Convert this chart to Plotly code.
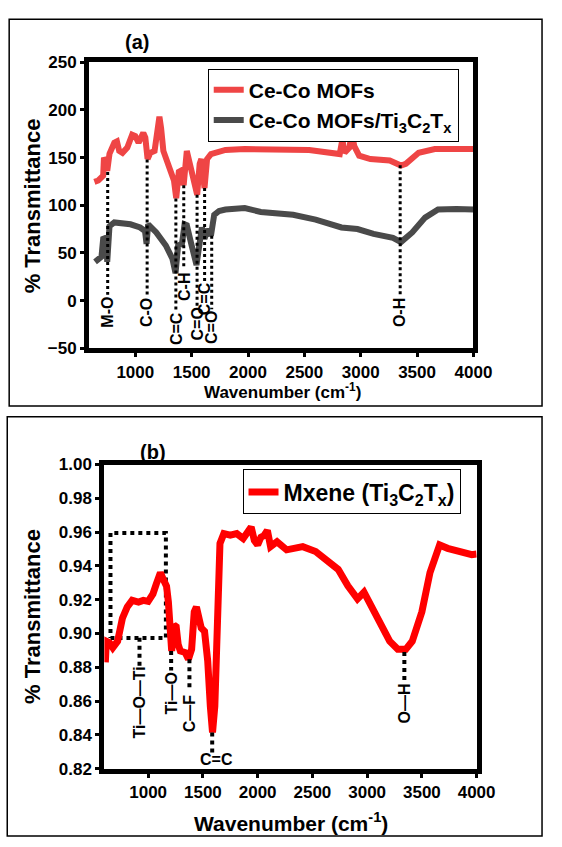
import plotly.graph_objects as go

# ---------------- Panel (a) data ----------------
mof_wn = [637, 672, 715, 722, 728, 751, 771, 814, 837, 857, 886, 929, 972, 1000, 1029, 1071, 1089, 1109,
          1134, 1171, 1200, 1214, 1229, 1249, 1300, 1343, 1363, 1386, 1409, 1429, 1457, 1486, 1529, 1549,
          1571, 1586, 1614, 1637, 1671, 1729, 1800, 1971, 2200, 2543, 2814, 2837, 2857, 2900, 2920, 2943,
          2986, 3086, 3257, 3357, 3400, 3514, 3657, 3800, 4000]
mof_t = [124.5, 126, 131, 150, 148.5, 136, 154, 165.6, 167, 157, 155, 160.5, 174, 172.5, 165.6, 176, 171, 148.5,
         155, 157, 179, 193, 181, 157, 140, 126, 107.5, 135, 136.5, 121, 157, 141.7, 119.5, 111,
         143.5, 148.5, 118, 148.5, 153.7, 156, 158, 159, 158.5, 158, 153.7, 169, 155, 160.5, 176, 162,
         152, 148.5, 147, 141.7, 143.5, 155, 159, 159, 159]

comp_wn = [643, 672, 700, 715, 743, 751, 771, 814, 957, 1043, 1086, 1100, 1114, 1186, 1271, 1329, 1357,
           1380, 1414, 1437, 1457, 1500, 1543, 1563, 1591, 1614, 1643, 1671, 1700, 1743, 1800, 1971, 2114,
           2400, 2600, 2829, 2971, 3114, 3286, 3357, 3457, 3571, 3686, 3850, 4000]
comp_t = [40.7, 44, 46, 64.7, 66, 40.7, 78, 82, 80, 76.7, 73, 59.5, 80, 71.5, 57.8, 44, 28.7,
          57.8, 59.5, 80, 79, 57.8, 37.3, 54, 76.7, 64.7, 75, 68, 90, 94, 95.5, 97, 93,
          90, 85, 76.7, 75, 70, 65.7, 61.3, 71.5, 87, 95.5, 96, 95.5]

peaks_a_wn = [755, 1105, 1360, 1430, 1548, 1615, 1678, 3350]
peaks_a_top = [135, 148, 107, 121, 111, 118, 68, 142]
peaks_a_bottom = [6, 5, -10, 33, -6, 20, -9, 5]
labels_a = ["M-O", "C-O", "C=C", "C-H", "C=O", "C=C", "C=O", "O-H"]
label_a_y = [-12, -13, -29, 14, -25, 2, -28, -13]

# ---------------- Panel (b) data ----------------
mx_wn = [609, 618, 647, 677, 721, 765, 809, 854, 912, 956, 1000, 1044, 1074, 1112, 1138, 1168, 1185, 1200,
         1215, 1235, 1256, 1274, 1294, 1338, 1368, 1397, 1421, 1441, 1465, 1485, 1515, 1544, 1568, 1588,
         1609, 1633, 1656, 1691, 1750, 1809, 1868, 1941, 1970, 2000, 2030, 2059, 2089, 2118, 2177, 2265,
         2412, 2530, 2647, 2736, 2824, 2912, 2971, 3029, 3118, 3206, 3280, 3353, 3412, 3500, 3574, 3662,
         3735, 3853, 3956, 4000]
mx_t = [0.8829, 0.8954, 0.8945, 0.8916, 0.8954, 0.909, 0.9157, 0.9196, 0.9186, 0.9196, 0.919, 0.9234, 0.9292,
        0.936, 0.932, 0.928, 0.9186, 0.8954, 0.8896, 0.905, 0.904, 0.8935, 0.8896, 0.8887, 0.8848, 0.8906,
        0.9128, 0.9157, 0.909, 0.9032, 0.9012, 0.8838, 0.8569, 0.8414, 0.857, 0.9147, 0.9533, 0.9591,
        0.9582, 0.9591, 0.9562, 0.963, 0.955, 0.9524, 0.957, 0.958, 0.961, 0.9514, 0.9543, 0.9495, 0.9514,
        0.9485, 0.9427, 0.9379, 0.9282, 0.9205, 0.9244, 0.9167, 0.9051, 0.8954, 0.8906, 0.8906, 0.8954,
        0.9128, 0.936, 0.9524, 0.9504, 0.9485, 0.9466, 0.947]

peaks_b_wn = [921, 1210, 1377, 1585, 3340]
peaks_b_top = [0.8975, 0.8896, 0.8848, 0.8414, 0.889]
peaks_b_bottom = [0.8796, 0.878, 0.868, 0.8287, 0.8704]
labels_b = ["Ti—O—Ti", "Ti—O", "C—F", "C=C", "O—H"]
label_b_x = [921, 1210, 1377, 1625, 3340]
label_b_y = [0.8594, 0.8645, 0.853, 0.8252, 0.8588]
label_b_angle = [-90, -90, -90, 0, -90]

box_wn = [656, 1162]
box_t = [0.8973, 0.9595]

FONT = "Liberation Sans, Arial, sans-serif"

fig = go.Figure()

fig.add_trace(go.Scatter(x=mof_wn, y=mof_t, mode="lines", name="Ce-Co MOFs", xaxis="x", yaxis="y",
                         line=dict(color="#ef4545", width=6), legend="legend"))
fig.add_trace(go.Scatter(x=comp_wn, y=comp_t, mode="lines",
                         name="Ce-Co MOFs/Ti<sub>3</sub>C<sub>2</sub>T<sub>x</sub>",
                         xaxis="x", yaxis="y", line=dict(color="#4a4a4a", width=6), legend="legend"))

for wn, top, bot in zip(peaks_a_wn, peaks_a_top, peaks_a_bottom):
    fig.add_trace(go.Scatter(x=[wn, wn], y=[top, bot], mode="lines", xaxis="x", yaxis="y",
                             line=dict(color="black", width=3, dash="dot"), showlegend=False,
                             hoverinfo="skip"))

# panel b
fig.add_trace(go.Scatter(x=[box_wn[0], box_wn[1], box_wn[1], box_wn[0], box_wn[0]],
                         y=[box_t[0], box_t[0], box_t[1], box_t[1], box_t[0]],
                         mode="lines", xaxis="x2", yaxis="y2",
                         line=dict(color="black", width=4, dash="dot"), showlegend=False, hoverinfo="skip"))
fig.add_trace(go.Scatter(x=mx_wn, y=mx_t, mode="lines", name="Mxene (Ti<sub>3</sub>C<sub>2</sub>T<sub>x</sub>)",
                         xaxis="x2", yaxis="y2", line=dict(color="#ff0000", width=7), legend="legend2"))
for wn, top, bot in zip(peaks_b_wn, peaks_b_top, peaks_b_bottom):
    fig.add_trace(go.Scatter(x=[wn, wn], y=[top, bot], mode="lines", xaxis="x2", yaxis="y2",
                             line=dict(color="black", width=4, dash="dot"), showlegend=False,
                             hoverinfo="skip"))

annotations = []
for wn, txt, ly in zip(peaks_a_wn, labels_a, label_a_y):
    annotations.append(dict(x=wn, y=ly, xref="x", yref="y", text="<b>%s</b>" % txt, textangle=-90,
                            showarrow=False, xanchor="center", yanchor="middle",
                            font=dict(family=FONT, size=16, color="black")))
for lx, txt, ly, ang in zip(label_b_x, labels_b, label_b_y, label_b_angle):
    annotations.append(dict(x=lx, y=ly, xref="x2", yref="y2", text="<b>%s</b>" % txt, textangle=ang,
                            showarrow=False, xanchor="center", yanchor="middle",
                            font=dict(family=FONT, size=16, color="black")))

W, H = 562, 847


def px(xp):
    return xp / W


def py(yp):
    return 1 - yp / H


text_items = [
    ("(a)", 142, 34, 0, 20),
    ("(b)", 158, 453, 0, 20),
    ("% Transmittance", 34, 201, -90, 22),
    ("% Transmittance", 33, 621, -90, 22),
    ("Wavenumber (cm<sup>-1</sup>)", 292, 391, 0, 17),
    ("Wavenumber (cm<sup>-1</sup>)", 301, 832, 0, 21),
]
for txt, xp, yp, ang, sz in text_items:
    annotations.append(dict(x=px(xp), y=py(yp), xref="paper", yref="paper", text="<b>%s</b>" % txt,
                            textangle=ang, showarrow=False, xanchor="center", yanchor="middle",
                            font=dict(family=FONT, size=sz, color="black")))

axis_common = dict(showgrid=False, zeroline=False, showline=True, linecolor="black", linewidth=5,
                   mirror=True, ticks="outside", ticklen=4, tickwidth=3, tickcolor="black",
                   tickfont=dict(family=FONT, size=17, color="black", weight="bold"))

fig.update_layout(
    width=W, height=H, margin=dict(l=0, r=0, t=0, b=0),
    paper_bgcolor="white", plot_bgcolor="white",
    xaxis=dict(domain=[px(92.2), px(490)], range=[590, 4000], tickvals=[1000, 1500, 2000, 2500, 3000, 3500, 4000],
               anchor="y", **axis_common),
    yaxis=dict(domain=[py(347), py(54.5)], range=[-50, 250], tickvals=[-50, 0, 50, 100, 150, 200, 250],
               anchor="x", **axis_common),
    xaxis2=dict(domain=[px(108), px(493.3)], range=[600, 4000],
                tickvals=[1000, 1500, 2000, 2500, 3000, 3500, 4000], anchor="y2", **axis_common),
    yaxis2=dict(domain=[py(777), py(466)], range=[0.82, 1.0], dtick=0.02, tick0=0.82, tickformat=".2f",
                anchor="x2", **axis_common),
    legend=dict(x=px(215), y=py(61), xanchor="left", yanchor="top", bordercolor="black", borderwidth=1,
                bgcolor="white", font=dict(family=FONT, size=21, color="black", weight="bold"),
                itemwidth=30, tracegroupgap=0),
    legend2=dict(x=px(251), y=py(471), xanchor="left", yanchor="top", bordercolor="black", borderwidth=1,
                 bgcolor="white", font=dict(family=FONT, size=23, color="black", weight="bold"),
                 itemwidth=30),
    annotations=annotations,
    shapes=[
        dict(type="rect", xref="paper", yref="paper", x0=px(9.5), x1=px(561), y0=py(406), y1=py(10.5),
             line=dict(color="black", width=1.5)),
        dict(type="rect", xref="paper", yref="paper", x0=px(7.5), x1=px(561), y0=py(846), y1=py(417),
             line=dict(color="black", width=1.5)),
    ],
)

fig.write_html(
    "out.html",
    config={"displayModeBar": False},
    post_script=(
        "document.body.style.margin='0';"
        "document.documentElement.style.overflow='hidden';"
        "document.body.style.overflow='hidden';"
        "var d=document.getElementById('{plot_id}');"
        "d.style.position='absolute';d.style.top='0px';d.style.left='0px';"
    ),
)
